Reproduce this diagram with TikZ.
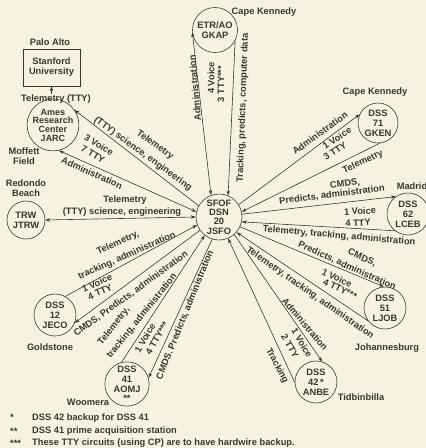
\documentclass[tikz,border=0pt]{standalone}
\usepackage{fontspec}
\setmainfont{Liberation Sans}
\usetikzlibrary{arrows.meta}
\definecolor{paper}{RGB}{245,243,224}
\definecolor{ink}{RGB}{58,55,48}
\begin{document}
\begin{tikzpicture}[x=1pt,y=-1pt,
  every node/.style={text=ink},
  txt/.style={font=\bfseries\fontsize{9.3}{9.6}\selectfont, inner sep=0pt, align=center},
  station/.style={circle, draw=ink, line width=0.6pt, minimum size=42pt, inner sep=0pt,
    align=center, font=\bfseries\fontsize{9.3}{10.2}\selectfont},
  link/.style={draw=ink, line width=0.6pt},
  tip/.style={-{Stealth[length=5pt,width=3.4pt]}},
  tips/.style={{Stealth[length=5pt,width=3.4pt]}-{Stealth[length=5pt,width=3.4pt]}}]
\fill[paper] (0,0) rectangle (426,448);
\useasboundingbox (0,0) rectangle (426,448);

% stations
\node[station, minimum size=46pt, font=\bfseries\fontsize{9.3}{9.4}\selectfont] (sfof) at (219,217) {SFOF\\DSN\\20\\JSFO};
\node[station, minimum size=45pt] (etr) at (215,30) {ETR/AO\\GKAP};
\node[station, minimum size=42pt, font=\bfseries\fontsize{9}{8.7}\selectfont] (ames) at (53,125) {Ames\\Research\\Center\\JARC};
\node[station, minimum size=38pt] (trw) at (26,220) {TRW\\JTRW};
\node[station, minimum size=40pt] (dss71) at (378,123) {DSS\\71\\GKEN};
\node[station] (dss62) at (408,214) {DSS\\62\\LCEB};
\node[station] (dss51) at (385,308) {DSS\\51\\LJOB};
\node[station] (dss42) at (316,382) {DSS\\42\,*\\ANBE};
\node[station] (dss12) at (55,315) {DSS\\12\\JECO};
\node[station, minimum size=44pt, font=\bfseries\fontsize{9.3}{9.6}\selectfont] (dss41) at (127,384) {DSS\\41\\AOMJ\\**};
\node[draw=ink, line width=0.6pt, minimum width=57pt, minimum height=37pt, txt,
  font=\bfseries\fontsize{9.3}{10}\selectfont] (stan) at (51.5,67.5) {Stanford\\University};

% place names
\node[txt] at (50,42) {Palo Alto};
\node[txt] (ttyl) at (56,99) {Telemetry (TTY)};
\node[txt] at (264,12) {Cape Kennedy};
\node[txt, font=\bfseries\fontsize{9.3}{10.5}\selectfont] at (24,156) {Moffett\\Field};
\node[txt, font=\bfseries\fontsize{9.3}{10.5}\selectfont] at (26,188) {Redondo\\Beach};
\node[txt] at (375,92) {Cape Kennedy};
\node[txt] at (412,186) {Madrid};
\node[txt] at (387,348) {Johannesburg};
\node[txt] at (361,397) {Tidbinbilla};
\node[txt] at (50,347) {Goldstone};
\node[txt] at (88,402) {Woomera};

% connectors
\draw[link, tip] (ttyl.north -| stan.south) -- (stan.south);
\draw[link, tips] (sfof.110) -- (etr.186);
\draw[link, tip] (etr.332) -- (sfof.67);
\draw[link, tip] (sfof.151) -- (ames.35);
\draw[link, tips] (ames.-77) -- (sfof.167);
\draw[link, tips] (trw.east) -- (sfof.west);
\draw[link, tip] (sfof.32) -- (dss71.155);
\draw[link, tip] (dss71.-85) -- (sfof.13);
\draw[link, tip] (sfof.7) -- (dss62.125);
\draw[link, tip] (dss62.232) -- (sfof.-12);
\draw[link, tip] (sfof.-25) -- (dss51.93);
\draw[link, tip] (dss51.217) -- (sfof.-41);
\draw[link, tip] (sfof.-49) -- (dss42.73);
\draw[link, tip] (dss42.181) -- (sfof.-67);
\draw[link, tip] (dss12.61) -- (sfof.200);
\draw[link, tip] (sfof.215) -- (dss12.-22);
\draw[link, tip] (dss41.104) -- (sfof.232);
\draw[link, tip] (sfof.253) -- (dss41.16);

% ETR labels
\node[txt, rotate=95] at (195,88) {Administration};
\node[txt, rotate=90] at (211,78) {4 Voice};
\node[txt, rotate=90] at (221,84) {3 TTY***};
\node[txt, rotate=88] at (243,108) {Tracking, predicts, computer data};
% Ames labels
\node[txt, rotate=-36] at (155,145) {Telemetry};
\node[txt, rotate=-36] at (143,154) {(TTY) science, engineering};
\node[txt, rotate=-30] at (99,145) {3 Voice};
\node[txt, rotate=-30] at (93,154) {7 TTY};
\node[txt, rotate=-24] at (92,173) {Administration};
% TRW labels
\node[txt] at (125,200) {Telemetry};
\node[txt] at (122,212) {(TTY) science, engineering};
% DSS 71 labels
\node[txt, rotate=36] at (320,133) {Administration};
\node[txt, rotate=33] at (337,138) {1 Voice};
\node[txt, rotate=33] at (335,151) {3 TTY};
\node[txt, rotate=25] at (363,162) {Telemetry};
% DSS 62 labels
\node[txt, rotate=7] at (345,184) {CMDS,};
\node[txt, rotate=7] at (332,195) {Predicts, administration};
\node[txt, rotate=3] at (360,211) {1 Voice};
\node[txt, rotate=3] at (358,223) {4 TTY};
\node[txt, rotate=-5] at (339,236) {Telemetry, tracking, administration};
% DSS 51 labels
\node[txt, rotate=-25] at (362,258) {CMDS,};
\node[txt, rotate=-24] at (347,266) {Predicts, administration};
\node[txt, rotate=-25] at (337,278) {1 Voice};
\node[txt, rotate=-25] at (340,289) {4 TTY***};
\node[txt, rotate=-35] at (310,293) {Telemetry, tracking, administration};
% DSS 42 labels
\node[txt, rotate=-50] at (305,324) {Administration};
\node[txt, rotate=-60] at (302,343) {1 Voice};
\node[txt, rotate=-60] at (290,346) {2 TTY};
\node[txt, rotate=-62] at (277,366) {Tracking};
% DSS 12 labels
\node[txt, rotate=24] at (118,243) {Telemetry,};
\node[txt, rotate=24] at (127,256) {tracking, administration};
\node[txt, rotate=24] at (97,283) {1 Voice};
\node[txt, rotate=24] at (100,292) {4 TTY};
\node[txt, rotate=36] at (131,294) {CMDS, Predicts, administration};
% DSS 41 labels
\node[txt, rotate=52] at (114,326) {Telemetry,};
\node[txt, rotate=51] at (142,316) {tracking, administration};
\node[txt, rotate=60] at (145,338) {1 Voice};
\node[txt, rotate=60] at (157,338) {4 TTY***};
\node[txt, rotate=68] at (185,315) {CMDS. Predicts, administration};

% footnotes
\node[txt, anchor=west] at (10,417) {*};
\node[txt, anchor=west] at (32,418) {DSS 42 backup for DSS 41};
\node[txt, anchor=west] at (10,431) {**};
\node[txt, anchor=west] at (32,431) {DSS 41 prime acquisition station};
\node[txt, anchor=west] at (10,443) {***};
\node[txt, anchor=west] at (32,443) {These TTY circuits (using CP) are to have hardwire backup.};
\end{tikzpicture}
\end{document}
